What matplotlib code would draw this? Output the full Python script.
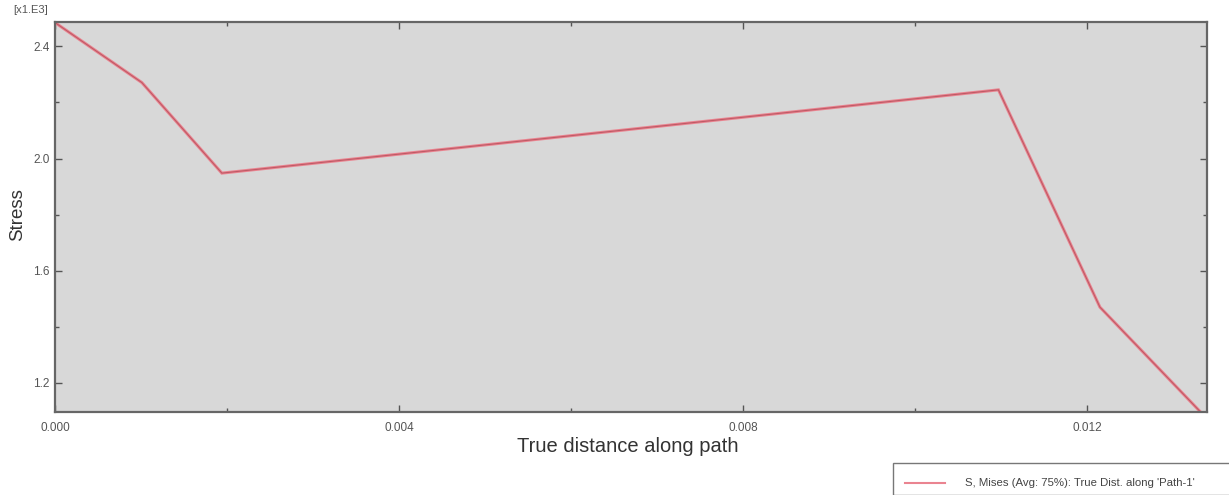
import matplotlib
matplotlib.use("Agg")
import matplotlib.pyplot as plt
from matplotlib.ticker import MultipleLocator, FixedLocator
from matplotlib.patches import Rectangle
from matplotlib.lines import Line2D

plt.rcParams['font.family'] = ['Liberation Sans', 'DejaVu Sans']

# Data (true distance along path [m], von Mises stress)
distance = [0.0, 0.00101, 0.00194, 0.01097, 0.01215, 0.01332]
stress = [2485, 2271, 1948, 2245, 1470, 1096]
x_ticks = [0.000, 0.004, 0.008, 0.012]
x_tick_labels = ["0.000", "0.004", "0.008", "0.012"]
y_ticks = [1.2, 1.6, 2.0, 2.4]
y_tick_labels = ["1.2", "1.6", "2.0", "2.4"]
series_label = "S, Mises (Avg: 75%): True Dist. along 'Path-1'"

W, H = 1229, 495
fig = plt.figure(figsize=(W / 100, H / 100), dpi=100)
ax = fig.add_axes([55 / W, 1 - 412 / H, (1207 - 55) / W, (412 - 22) / H])
ax.set_facecolor('#d8d8d8')

ys = [s / 1000 for s in stress]
ax.plot(distance, ys, color='#ea8490', lw=2.2, solid_joinstyle='miter')
ax.plot(distance, ys, color='#bf5a66', lw=0.8)

ax.set_xlim(0, 0.013395)
ax.set_ylim(1.096, 2.487)

ax.xaxis.set_major_locator(FixedLocator(x_ticks))
ax.set_xticklabels(x_tick_labels)
ax.xaxis.set_minor_locator(MultipleLocator(0.002))
ax.yaxis.set_major_locator(FixedLocator(y_ticks))
ax.set_yticklabels(y_tick_labels)
ax.yaxis.set_minor_locator(MultipleLocator(0.2))

ax.tick_params(which='both', direction='in', top=True, right=True,
               color='#555555', labelsize=8.5, labelcolor='#555555')
ax.tick_params(which='major', length=5, width=1)
ax.tick_params(which='minor', length=3, width=1)
ax.tick_params(axis='x', pad=7)
ax.tick_params(axis='y', pad=4)

for sp in ax.spines.values():
    sp.set_color('#666666')
    sp.set_linewidth(1.6)

fig.text(31 / W, 1 - 10 / H, "[x1.E3]", fontsize=8, color='#555555',
         ha='center', va='center')
fig.text(18 / W, 1 - 215 / H, "Stress", fontsize=13.5, color='#333333',
         rotation=90, ha='center', va='center')
fig.text(628 / W, 1 - 447 / H, "True distance along path", fontsize=14.5,
         color='#333333', ha='center', va='center')

# Legend box (partially cut off at bottom-right, as in the reference)
fig.patches.append(Rectangle((893 / W, 0), (1240 - 893) / W, (495 - 463) / H,
                             transform=fig.transFigure, facecolor='white',
                             edgecolor='#777777', lw=1, clip_on=False))
fig.lines.append(Line2D([905 / W, 945 / W], [1 - 483 / H, 1 - 483 / H],
                        transform=fig.transFigure, color='#ea8490', lw=1.5))
fig.text(965 / W, 1 - 483 / H, series_label, fontsize=8.2, color='#444444',
         ha='left', va='center')

fig.savefig("out.png", dpi=100, facecolor='white')
